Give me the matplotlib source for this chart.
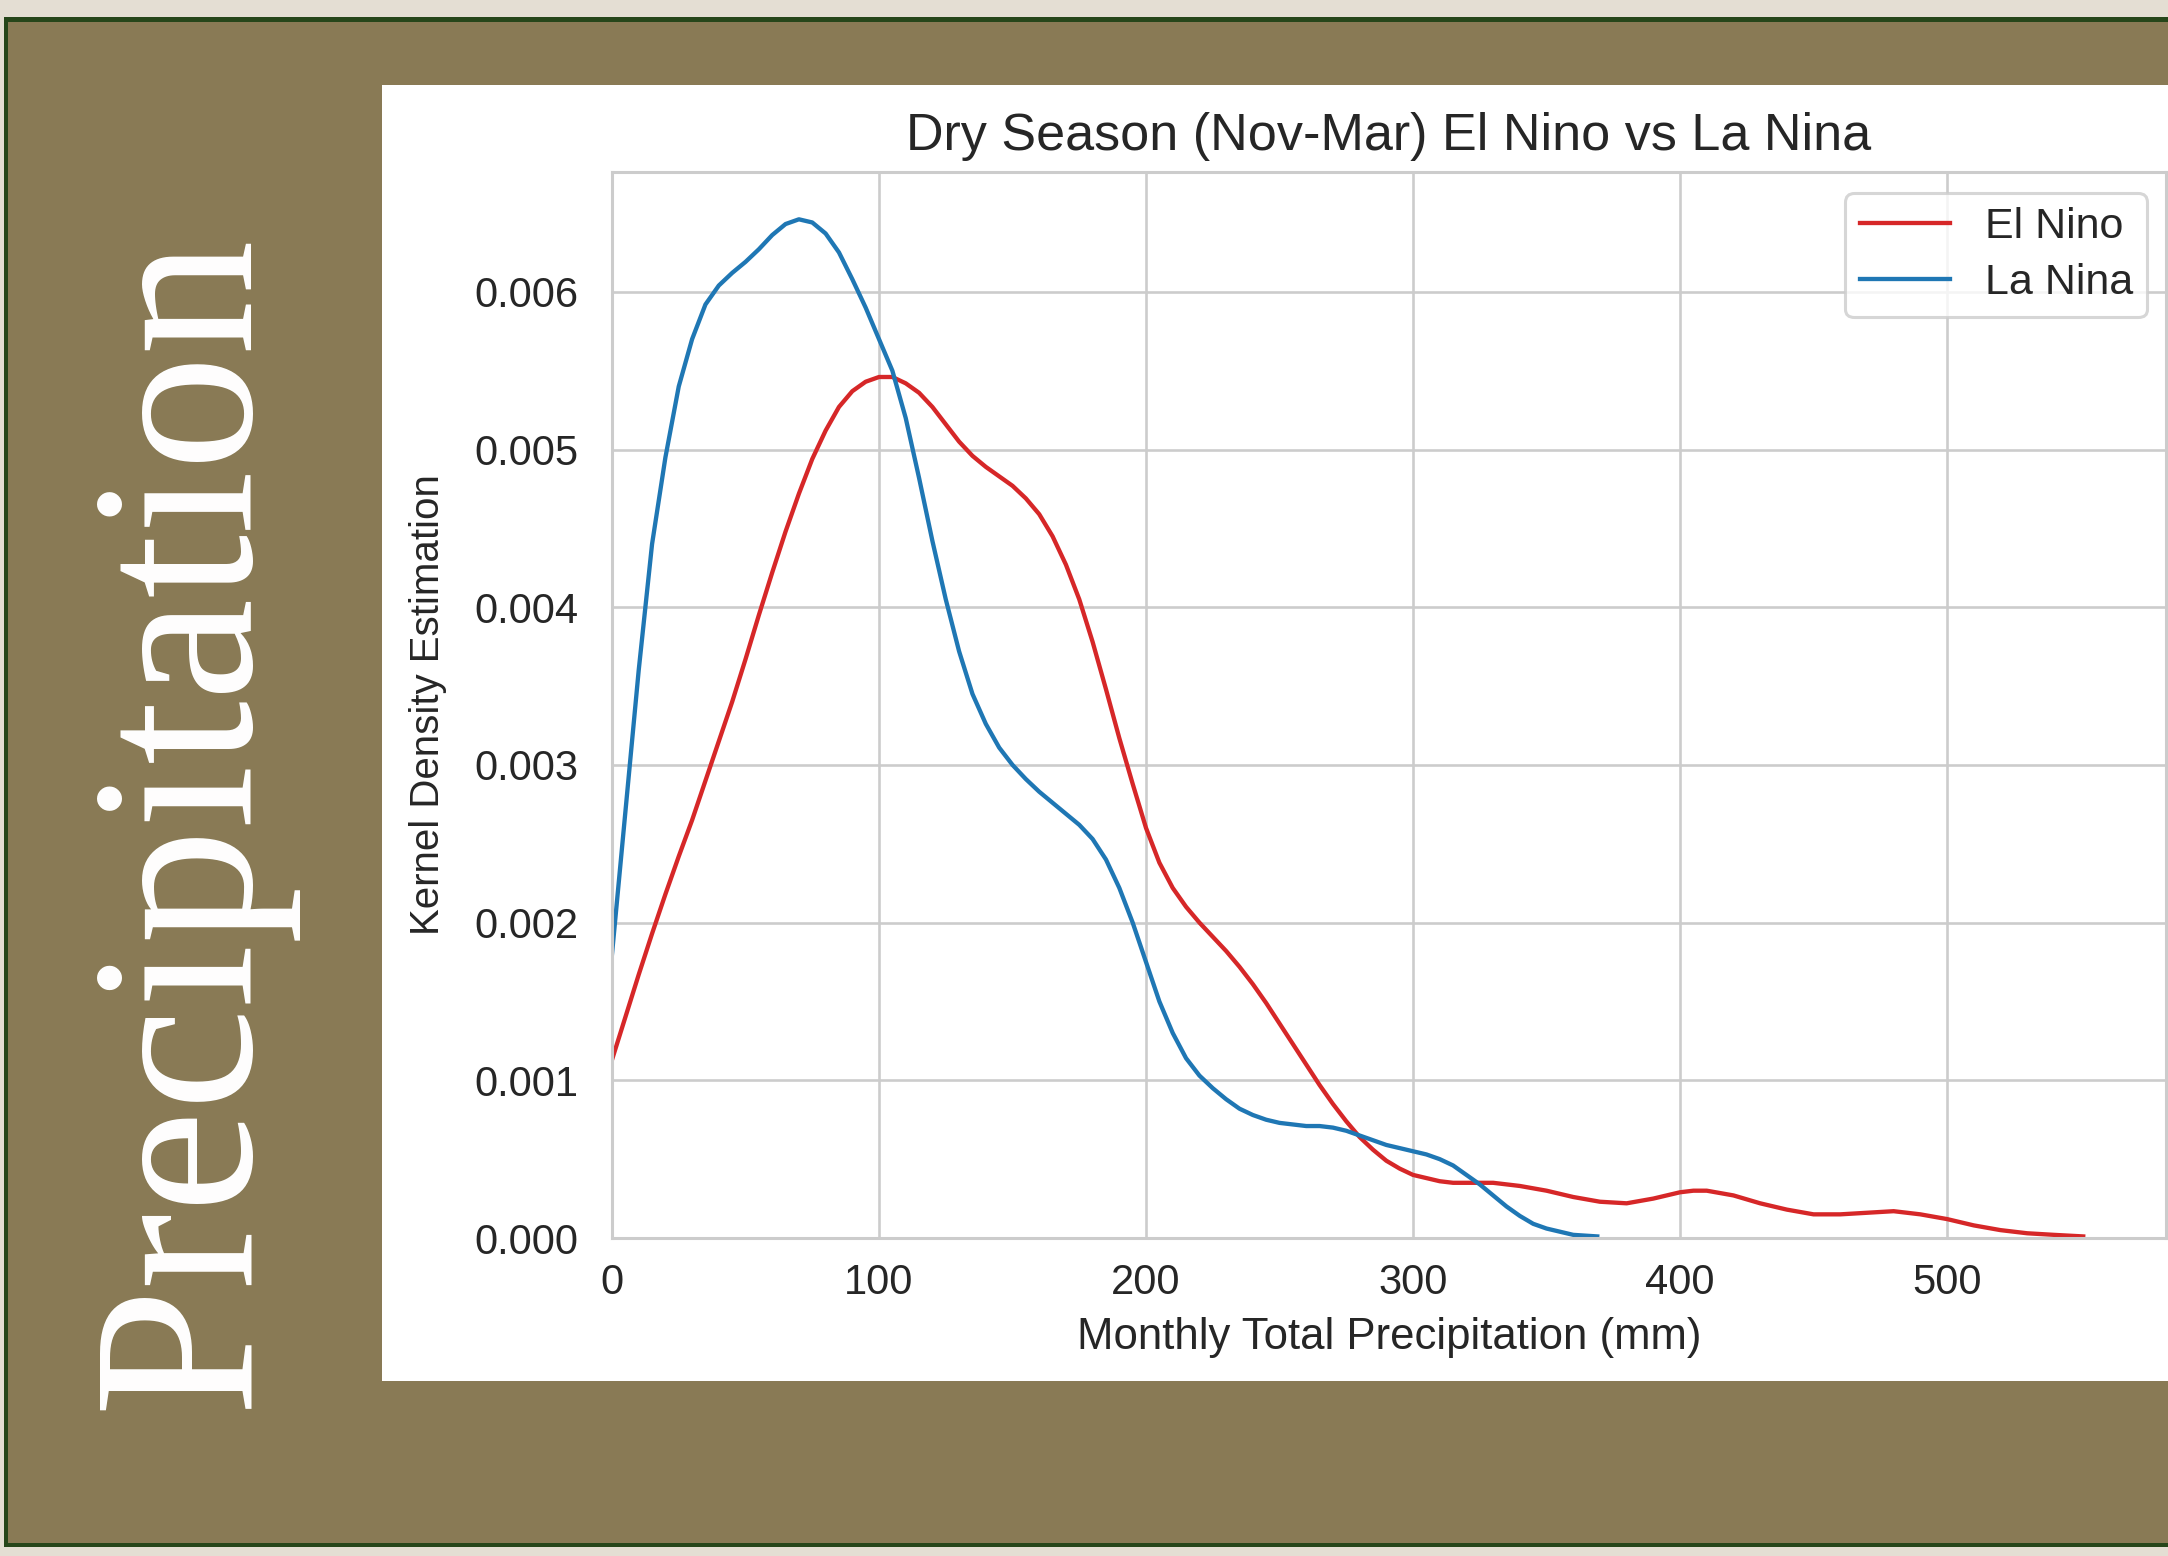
import numpy as np
import matplotlib.pyplot as plt
from matplotlib.patches import Rectangle

# -------------------
# DATA
# -------------------
el_nino_x = [0, 5, 10, 15, 20, 25, 30, 35, 40, 45, 50, 55, 60, 65, 70, 75, 80, 85, 90,
             95, 100, 105, 110, 115, 120, 125, 130, 135, 140, 145, 150, 155, 160, 165,
             170, 175, 180, 185, 190, 195, 200, 205, 210, 215, 220, 225, 230, 235, 240,
             245, 250, 255, 260, 265, 270, 275, 280, 285, 290, 295, 300, 305, 310, 315,
             320, 325, 330, 335, 340, 350, 360, 370, 380, 390, 400, 405, 410, 420, 430,
             440, 450, 460, 470, 480, 490, 500, 510, 520, 530, 540, 551]
el_nino_y = [0.00113, 0.00140, 0.00167, 0.00193, 0.00218, 0.00242, 0.00265, 0.00290,
             0.00315, 0.00340, 0.00367, 0.00395, 0.00422, 0.00448, 0.00472, 0.00494,
             0.00512, 0.00527, 0.00537, 0.00543, 0.00546, 0.00546, 0.00542, 0.00536,
             0.00527, 0.00516, 0.00505, 0.00496, 0.00489, 0.00483, 0.00477, 0.00469,
             0.00459, 0.00445, 0.00427, 0.00405, 0.00378, 0.00348, 0.00317, 0.00288,
             0.00260, 0.00238, 0.00222, 0.00210, 0.00200, 0.00191, 0.00182, 0.00172,
             0.00161, 0.00149, 0.00136, 0.00123, 0.00110, 0.00097, 0.00085, 0.00074,
             0.00064, 0.00056, 0.00049, 0.00044, 0.00040, 0.00038, 0.00036, 0.00035,
             0.00035, 0.00035, 0.00035, 0.00034, 0.00033, 0.00030, 0.00026, 0.00023,
             0.00022, 0.00025, 0.00029, 0.00030, 0.00030, 0.00027, 0.00022, 0.00018,
             0.00015, 0.00015, 0.00016, 0.00017, 0.00015, 0.00012, 0.00008, 0.00005,
             0.00003, 0.00002, 0.00001]

la_nina_x = [0, 5, 10, 15, 20, 25, 30, 35, 40, 45, 50, 55, 60, 65, 70, 75, 80, 85, 90,
             95, 100, 105, 110, 115, 120, 125, 130, 135, 140, 145, 150, 155, 160, 165,
             170, 175, 180, 185, 190, 195, 200, 205, 210, 215, 220, 225, 230, 235, 240,
             245, 250, 255, 260, 265, 270, 275, 280, 285, 290, 295, 300, 305, 310, 315,
             320, 325, 330, 335, 340, 345, 350, 355, 360, 369]
la_nina_y = [0.00180, 0.00270, 0.00360, 0.00440, 0.00495, 0.00540, 0.00570, 0.00592,
             0.00604, 0.00612, 0.00619, 0.00627, 0.00636, 0.00643, 0.00646, 0.00644,
             0.00637, 0.00625, 0.00608, 0.00590, 0.00570, 0.00550, 0.00520, 0.00482,
             0.00442, 0.00405, 0.00372, 0.00345, 0.00326, 0.00311, 0.00300, 0.00291,
             0.00283, 0.00276, 0.00269, 0.00262, 0.00253, 0.00240, 0.00222, 0.00200,
             0.00175, 0.00150, 0.00130, 0.00114, 0.00103, 0.00095, 0.00088, 0.00082,
             0.00078, 0.00075, 0.00073, 0.00072, 0.00071, 0.00071, 0.00070, 0.00068,
             0.00065, 0.00062, 0.00059, 0.00057, 0.00055, 0.00053, 0.00050, 0.00046,
             0.00040, 0.00034, 0.00027, 0.00020, 0.00014, 0.00009, 0.00006, 0.00004,
             0.00002, 0.00001]

x_ticks = [0, 100, 200, 300, 400, 500]
y_ticks = [0.000, 0.001, 0.002, 0.003, 0.004, 0.005, 0.006]

TITLE = "Dry Season (Nov-Mar) El Nino vs La Nina"
XLABEL = "Monthly Total Precipitation (mm)"
YLABEL = "Kernel Density Estimation"
SIDE_TEXT = "Precipitation"

# -------------------
# FIGURE / SLIDE BACKGROUND
# -------------------
W, H = 2168, 1556
BEIGE = "#E4DED3"
GREEN = "#26461A"
OLIVE = "#897A55"
TEXT_C = "#262626"
GRID_C = "#cccccc"

plt.rcParams['font.family'] = ['Liberation Sans', 'DejaVu Sans']

fig = plt.figure(figsize=(W / 100, H / 100), dpi=100, facecolor=BEIGE)


def px_rect(x0, y0, x1, y1, color, z):
    # rectangle given in pixel coords (origin top-left)
    r = Rectangle((x0 / W, 1 - y1 / H), (x1 - x0) / W, (y1 - y0) / H,
                  transform=fig.transFigure, facecolor=color, edgecolor='none',
                  zorder=z)
    fig.patches.append(r)


px_rect(4, 17, W + 10, 1547, GREEN, -3)
px_rect(8, 22, W + 10, 1543, OLIVE, -2)
px_rect(382, 85, W + 10, 1381, "white", -1)

fig.text(245 / W, 1 - 1410 / H, SIDE_TEXT, rotation=90, rotation_mode='anchor',
         ha='left', va='baseline', color='white', fontsize=166,
         family='Liberation Serif')

# -------------------
# CHART
# -------------------
ax_l, ax_r, ax_t, ax_b = 612, 2166, 172, 1238
ax = fig.add_axes([ax_l / W, 1 - ax_b / H, (ax_r - ax_l) / W, (ax_b - ax_t) / H])
ax.set_facecolor('white')

ax.plot(el_nino_x, el_nino_y, color='#d62728', lw=3.1, label='El Nino')
ax.plot(la_nina_x, la_nina_y, color='#1f77b4', lw=3.1, label='La Nina')

ax.set_xlim(0, 582)
ax.set_ylim(0, 0.00676)
ax.set_xticks(x_ticks)
ax.set_yticks(y_ticks)
ax.set_yticklabels([f"{v:.3f}" for v in y_ticks])

ax.grid(True, color=GRID_C, lw=1.9)
ax.set_axisbelow(True)
for s in ax.spines.values():
    s.set_color(GRID_C)
    s.set_linewidth(2.2)

ax.tick_params(axis='both', length=0, labelsize=30, colors=TEXT_C)
ax.tick_params(axis='x', pad=18)
ax.tick_params(axis='y', pad=24)

ax.set_title(TITLE, fontsize=37.5, color=TEXT_C, pad=16)
ax.set_xlabel(XLABEL, fontsize=31.5, color=TEXT_C, labelpad=10)
ax.set_ylabel(YLABEL, fontsize=29, color=TEXT_C, labelpad=20)

leg = ax.legend(loc='upper right', bbox_to_anchor=(2147 / W, 1 - 193 / H),
                bbox_transform=fig.transFigure, borderaxespad=0,
                fontsize=31, handlelength=2.1, handletextpad=0.8,
                labelspacing=0.37, borderpad=0.33, frameon=True, fancybox=True)
leg.get_frame().set_edgecolor(GRID_C)
leg.get_frame().set_linewidth(2.2)
for t in leg.get_texts():
    t.set_color(TEXT_C)

fig.savefig("out.png", dpi=100, facecolor=BEIGE)
